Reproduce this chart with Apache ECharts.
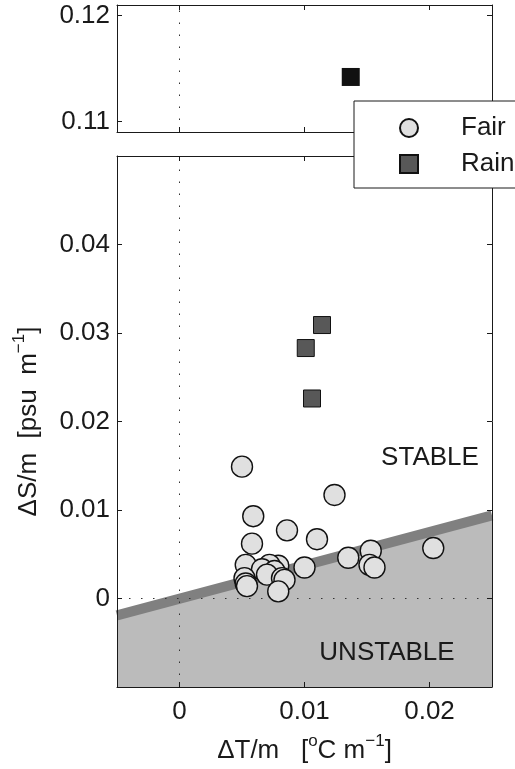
<!DOCTYPE html>
<html>
<head>
<meta charset="utf-8">
<script src="https://cdn.jsdelivr.net/npm/echarts@6/dist/echarts.min.js"></script>
<style>
  html, body { margin: 0; padding: 0; background: #fff; }
  #chart { width: 515px; height: 769px; }
</style>
</head>
<body>
<div id="chart"></div>
<script>
// ΔT/m, ΔS/m pairs
const fairPoints = [
  [0.0050, 0.0149], [0.0124, 0.0117], [0.0059, 0.0093], [0.0086, 0.0077],
  [0.0110, 0.0067], [0.0058, 0.0062], [0.0203, 0.0057], [0.0153, 0.0054],
  [0.0135, 0.0046], [0.0152, 0.0038], [0.0156, 0.0035], [0.0053, 0.0038],
  [0.0100, 0.0035], [0.0079, 0.0037], [0.0072, 0.0038], [0.0066, 0.0033],
  [0.0076, 0.0031], [0.0070, 0.0027], [0.0082, 0.0023], [0.0084, 0.0021],
  [0.0052, 0.0023], [0.0053, 0.0017], [0.0054, 0.0014], [0.0079, 0.0008]
];
const rainPoints = [[0.0114, 0.0309], [0.0101, 0.0283], [0.0106, 0.0226]];
const rainHighPoints = [[0.0137, 0.1142]];

// stability boundary (thick grey line)
const boundaryT = [-0.005, 0.025];
const boundaryS = [-0.0019, 0.0094];

const xTicks = [0, 0.01, 0.02];
const yTicksLow = [0, 0.01, 0.02, 0.03, 0.04];
const yTicksHigh = [0.11, 0.12];

const FONT = '"Liberation Sans", Arial, sans-serif';
const INK = '#1a1a1a';

const chart = echarts.init(document.getElementById('chart'));

function xAxis(grid, pos, labels, extra) {
  return Object.assign({
    type: 'value', gridIndex: grid, position: pos,
    min: -0.005, max: 0.025, z: 10,
    axisLine: { show: true, onZero: false, lineStyle: { color: INK, width: 1 } },
    axisTick: { show: true, inside: true, length: 5, customValues: xTicks, lineStyle: { color: INK } },
    axisLabel: { show: labels, customValues: xTicks, margin: 12, color: INK, fontSize: 26, fontFamily: FONT },
    splitLine: { show: false }
  }, extra || {});
}

function yAxis(grid, pos, labels, min, max, ticks, extra) {
  return Object.assign({
    type: 'value', gridIndex: grid, position: pos,
    min: min, max: max, z: 10,
    axisLine: { show: true, onZero: false, lineStyle: { color: INK, width: 1 } },
    axisTick: { show: true, inside: true, length: 5, customValues: ticks, lineStyle: { color: INK } },
    axisLabel: { show: labels, customValues: ticks, margin: 7, color: INK, fontSize: 26, fontFamily: FONT },
    splitLine: { show: false }
  }, extra || {});
}

const dotted = { type: [1.5, 10.5], color: '#333', width: 1 };
const sup = { fontSize: 17, fontFamily: FONT, color: INK, verticalAlign: 'top', lineHeight: 17 };
const norm = { fontSize: 26, fontFamily: FONT, color: INK, lineHeight: 36 };

chart.setOption({
  animation: false,
  backgroundColor: '#fff',
  grid: [
    { left: 117, right: 23, top: 5, height: 127 },
    { left: 117, right: 23, top: 156, height: 532 }
  ],
  xAxis: [
    xAxis(0, 'bottom', false),
    xAxis(0, 'top', false),
    xAxis(1, 'bottom', true, {
      name: '{n|ΔT/m   [}{s|o}{n|C m}{s|−1}{n|]}',
      nameLocation: 'middle', nameGap: 46,
      nameTextStyle: { rich: { n: norm, s: sup } }
    }),
    xAxis(1, 'top', false)
  ],
  yAxis: [
    yAxis(0, 'left', true, 0.109, 0.121, yTicksHigh),
    yAxis(0, 'right', false, 0.109, 0.121, yTicksHigh),
    yAxis(1, 'left', true, -0.01, 0.05, yTicksLow, {
      name: '{n|ΔS/m  [psu  m}{s|−1}{n|]}',
      nameLocation: 'middle', nameGap: 70, nameRotate: 90,
      nameTextStyle: { rich: { n: norm, s: sup } }
    }),
    yAxis(1, 'right', false, -0.01, 0.05, yTicksLow)
  ],
  legend: {
    orient: 'vertical', left: 354, top: 101,
    padding: [14, 40, 11, 45],
    itemWidth: 18, itemHeight: 18, itemGap: 10,
    backgroundColor: '#fff', borderColor: INK, borderWidth: 1, borderRadius: 0,
    textStyle: { fontSize: 26, fontFamily: FONT, color: INK, padding: [0, 0, 0, 38] },
    data: ['Fair', 'Rain'],
    z: 20
  },
  series: [
    {
      name: 'unstable', type: 'line', xAxisIndex: 2, yAxisIndex: 2,
      data: boundaryT.map((t, i) => [t, boundaryS[i]]),
      symbol: 'none', lineStyle: { width: 0 },
      areaStyle: { color: '#bbbbbb', opacity: 1, origin: 'start' },
      z: 1, silent: true
    },
    {
      name: 'zero-low', type: 'line', xAxisIndex: 2, yAxisIndex: 2, data: [], z: 2,
      markLine: { silent: true, symbol: 'none', label: { show: false }, lineStyle: dotted,
        data: [{ xAxis: 0 }, { yAxis: 0 }] }
    },
    {
      name: 'zero-high', type: 'line', xAxisIndex: 0, yAxisIndex: 0, data: [], z: 2,
      markLine: { silent: true, symbol: 'none', label: { show: false }, lineStyle: dotted,
        data: [{ xAxis: 0 }] }
    },
    {
      name: 'boundary', type: 'line', xAxisIndex: 2, yAxisIndex: 2,
      data: boundaryT.map((t, i) => [t, boundaryS[i]]),
      symbol: 'none', lineStyle: { width: 10, color: '#808080', cap: 'butt' },
      z: 3, silent: true
    },
    {
      name: 'Fair', type: 'scatter', xAxisIndex: 2, yAxisIndex: 2,
      data: fairPoints, symbol: 'circle', symbolSize: 21,
      itemStyle: { color: '#e0e0e0', borderColor: '#111', borderWidth: 1.4, opacity: 1 },
      z: 5
    },
    {
      name: 'Rain', type: 'scatter', xAxisIndex: 2, yAxisIndex: 2,
      data: rainPoints, symbol: 'rect', symbolSize: 17,
      itemStyle: { color: '#585858', borderColor: '#111', borderWidth: 1, opacity: 1 },
      z: 5
    },
    {
      name: 'Rain (off scale)', type: 'scatter', xAxisIndex: 0, yAxisIndex: 0,
      data: rainHighPoints, symbol: 'rect', symbolSize: 18,
      itemStyle: { color: '#111', borderColor: '#111', borderWidth: 0, opacity: 1 },
      z: 5
    }
  ],
  graphic: [
    { type: 'text', x: 430, y: 458, z: 20,
      style: { text: 'STABLE', fontSize: 26, fontFamily: FONT, fill: INK, align: 'center', verticalAlign: 'middle' } },
    { type: 'text', x: 387, y: 653, z: 20,
      style: { text: 'UNSTABLE', fontSize: 26, fontFamily: FONT, fill: INK, align: 'center', verticalAlign: 'middle' } }
  ]
});
</script>
</body>
</html>
